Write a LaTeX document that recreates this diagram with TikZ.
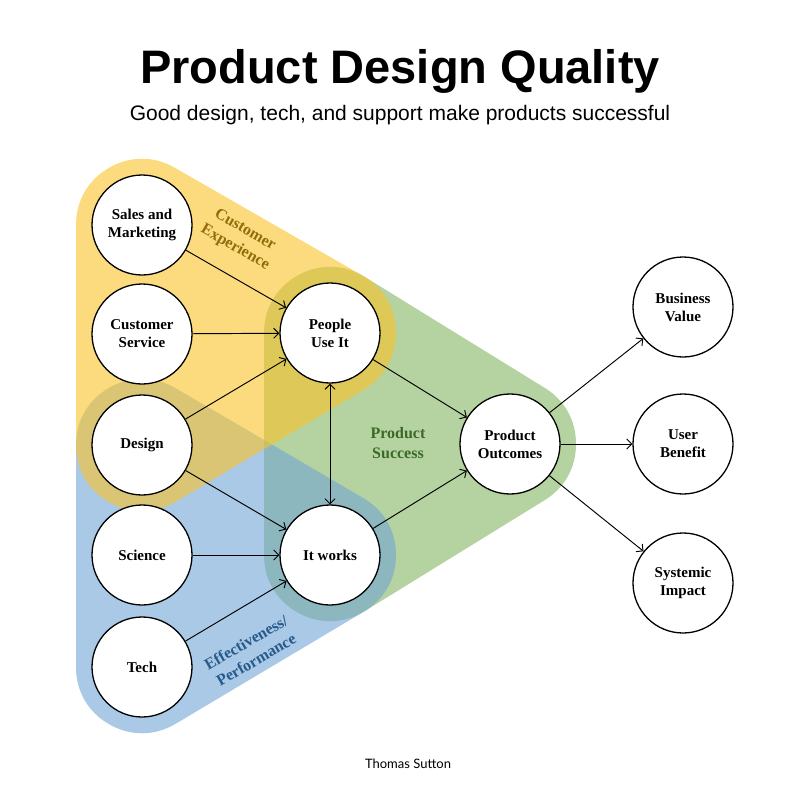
\documentclass[tikz,border=0pt]{standalone}
\usepackage{fontspec}
\setmainfont{Liberation Serif}
\newfontfamily\headfont{Liberation Sans}
\newfontfamily\footfont{Lato}
\usetikzlibrary{arrows.meta,backgrounds}

\definecolor{cxyellow}{RGB}{250,195,40}
\definecolor{psgreen}{RGB}{132,182,97}
\definecolor{epblue}{RGB}{113,165,213}
\definecolor{cxtext}{RGB}{145,110,10}
\definecolor{pstext}{RGB}{60,105,40}
\definecolor{eptext}{RGB}{40,90,140}

\tikzset{
	factor/.style={circle, draw, line width=1.3pt, fill=white, minimum size=100pt, inner sep=0pt, align=center, font=\bfseries\fontsize{15}{18}\selectfont},
	area/.style={line width=132pt, line join=round, draw=#1, fill=#1},
	arealabel/.style={align=center, font=\bfseries\fontsize{16}{20}\selectfont},
}

\begin{document}
\begin{tikzpicture}[x=1pt, y=-1pt, >={Straight Barb[length=5pt,width=10pt]}]
				\useasboundingbox (0,0) rectangle (800,800);
				\node[anchor=base, font=\headfont\bfseries\fontsize{47}{56}\selectfont] (title) at (400,83) {Product Design Quality};
				\node[anchor=base, font=\headfont\fontsize{21}{25}\selectfont] (subtitle) at (400,120) {Good design, tech, and support make products successful};
				\node[anchor=base, font=\footfont\fontsize{13}{16}\selectfont] (author) at (408,768) {Thomas Sutton};
				% left column
				\node[factor] (sales) at (142,225) {Sales and\\Marketing};
				\node[factor] (service) at (142,334) {Customer\\Service};
				\node[factor] (design) at (142,445) {Design};
				\node[factor] (science) at (142,555) {Science};
				\node[factor] (tech) at (142,667) {Tech};
				% middle
				\node[factor] (people) at (330,333) {People\\Use It};
				\node[factor] (works) at (330,555) {It works};
				\node[factor] (outcomes) at (510,444) {Product\\Outcomes};
				% right column
				\node[factor] (business) at (683,307) {Business\\Value};
				\node[factor] (benefit) at (683,444) {User\\Benefit};
				\node[factor] (impact) at (683,583) {Systemic\\Impact};
				% shaded areas
				\begin{pgfonlayer}{background}
					\begin{scope}[transparency group, opacity=0.6]
						\draw[area=psgreen] (people.center) -- (outcomes.center) -- (works.center) -- cycle;
					\end{scope}
					\begin{scope}[transparency group, opacity=0.6]
						\draw[area=epblue] (design.center) -- (works.center) -- (tech.center) -- cycle;
					\end{scope}
					\begin{scope}[transparency group, opacity=0.6]
						\draw[area=cxyellow] (sales.center) -- (people.center) -- (design.center) -- cycle;
					\end{scope}
				\end{pgfonlayer}
				\node[arealabel, text=cxtext, rotate=-30] (cxlabel) at (240,239) {Customer\\Experience};
				\node[arealabel, text=pstext] (pslabel) at (398,443) {Product\\Success};
				\node[arealabel, text=eptext, rotate=30] (eplabel) at (251,651) {Effectiveness/\\Performance};
				% arrows
				\draw[->, line width=0.95pt] (sales) -- (people);
				\draw[->, line width=0.95pt] (service) -- (people);
				\draw[->, line width=0.95pt] (design) -- (people);
				\draw[->, line width=0.95pt] (design) -- (works);
				\draw[->, line width=0.95pt] (science) -- (works);
				\draw[->, line width=0.95pt] (tech) -- (works);
				\draw[<->, line width=0.95pt] (people) -- (works);
				\draw[->, line width=0.95pt] (people) -- (outcomes);
				\draw[->, line width=0.95pt] (works) -- (outcomes);
				\draw[->, line width=0.95pt] (outcomes) -- (business);
				\draw[->, line width=0.95pt] (outcomes) -- (benefit);
				\draw[->, line width=0.95pt] (outcomes) -- (impact);
			\end{tikzpicture}
\end{document}
